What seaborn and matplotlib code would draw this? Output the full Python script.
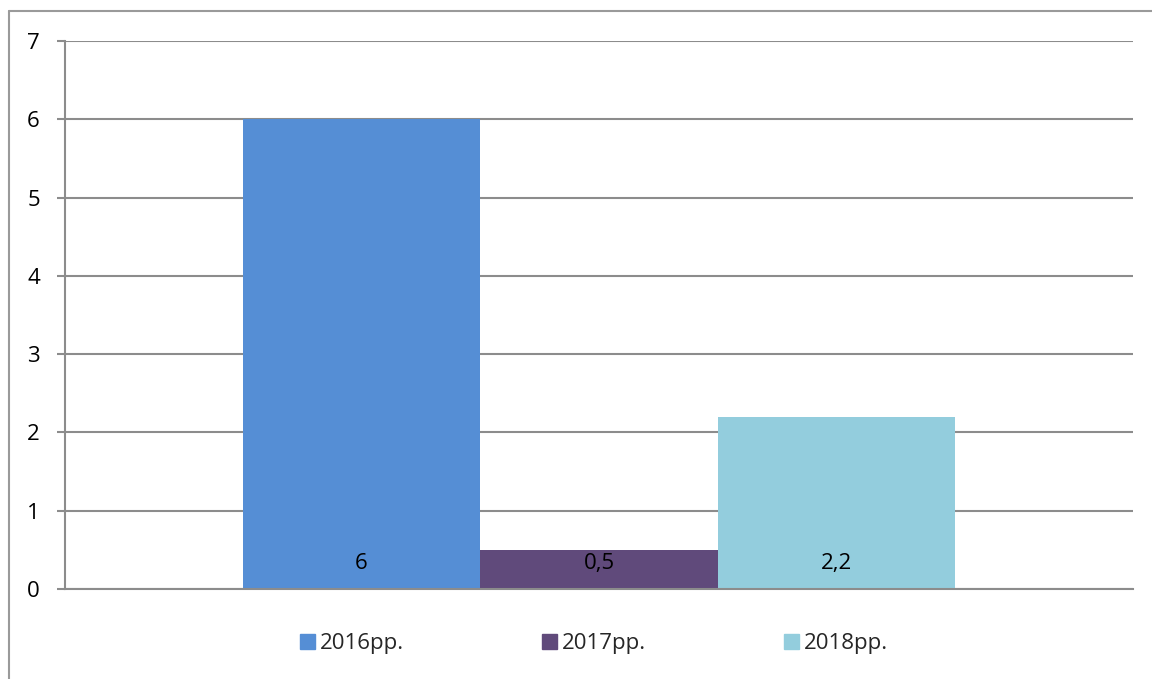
import matplotlib
matplotlib.use("Agg")
import matplotlib.pyplot as plt
import pandas as pd
import seaborn as sns
from matplotlib.lines import Line2D

series = ["2016рр.", "2017рр.", "2018рр."]
values = [6, 0.5, 2.2]
value_labels = ["6", "0,5", "2,2"]
colors = ["#558ED5", "#604A7B", "#93CDDD"]
yticks = [0, 1, 2, 3, 4, 5, 6, 7]

sns.set_theme(style="white")
plt.rcParams["font.family"] = ["Open Sans", "DejaVu Sans"]

df = pd.DataFrame({"cat": [""] * len(series), "series": series, "value": values})

fig = plt.figure(figsize=(11.52, 6.79), dpi=100)
ax = fig.add_axes([65 / 1152, 1 - 589 / 679, (1133 - 65) / 1152, (589 - 41) / 679])

sns.barplot(data=df, x="cat", y="value", hue="series", palette=colors,
            width=0.667, dodge=True, saturation=1, ax=ax, legend=True)

for patch in ax.patches:
    patch.set_edgecolor("none")

ax.set_xlim(-0.5, 0.5)
ax.set_ylim(0, 7)
ax.set_yticks(yticks)
ax.set_yticklabels([str(t) for t in yticks], fontsize=16, color="black")
ax.set_xticks([])
ax.set_xlabel("")
ax.set_ylabel("")
ax.yaxis.grid(True, color="#8c8c8c", linewidth=1.5)
ax.set_axisbelow(True)
ax.tick_params(axis="y", length=6, width=1.5, color="#8c8c8c", pad=12, left=True)

for side in ["top", "right"]:
    ax.spines[side].set_visible(False)
for side in ["left", "bottom"]:
    ax.spines[side].set_color("#8c8c8c")
    ax.spines[side].set_linewidth(1.5)

# value labels near the base of each bar
for patch, lab in zip(ax.patches[:len(series)], value_labels):
    cx = patch.get_x() + patch.get_width() / 2
    ax.text(cx, 0.33, lab, ha="center", va="center", fontsize=16, color="black")

handles = [plt.Rectangle((0, 0), 1, 1, color=c) for c in colors]
ax.legend(handles, series, loc="center", bbox_to_anchor=(0.495, -0.1), ncol=3,
          frameon=False, fontsize=16, handlelength=0.7, handleheight=0.7,
          handletextpad=0.2, columnspacing=6.2)

# outer chart border (cropped on right and bottom)
fig.add_artist(Line2D([9 / 1152, 1], [1 - 11 / 679, 1 - 11 / 679],
                      color="#9a9a9a", linewidth=1.5, transform=fig.transFigure))
fig.add_artist(Line2D([9 / 1152, 9 / 1152], [0, 1 - 11 / 679],
                      color="#9a9a9a", linewidth=1.5, transform=fig.transFigure))

fig.savefig("out.png", dpi=100, facecolor="white")
